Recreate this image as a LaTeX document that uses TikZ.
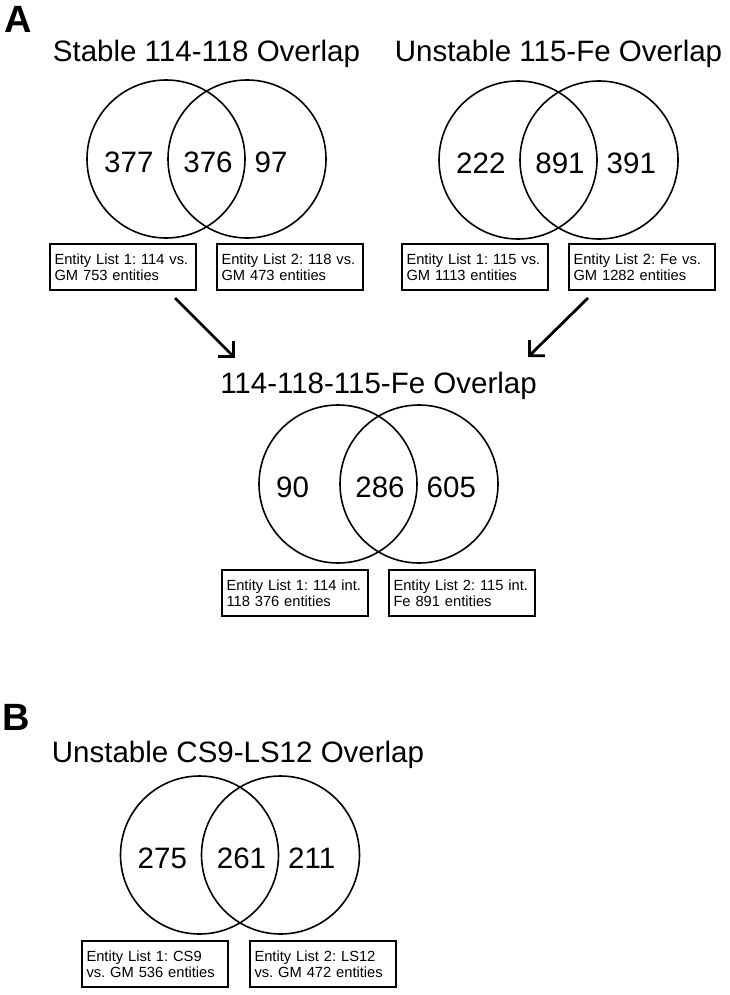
\documentclass[tikz,border=0pt]{standalone}
\usepackage{fontspec}
\setmainfont{Liberation Sans}
\usepackage{tikz}
\usetikzlibrary{calc,shapes,arrows.meta}
\newcommand{\tikzVennPair}[5]{
  \node[draw,circle,line width=1.6pt,minimum size=158pt,inner sep=0pt,xshift=-40.5pt] (#1l) at (#2) {};
  \node[draw,circle,line width=1.6pt,minimum size=158pt,inner sep=0pt,xshift=40.5pt] (#1r) at (#2) {};
  \node[vennnum,anchor=west,xshift=-102.5pt,yshift=-3pt] (#1a) at (#2) {#3};
  \node[vennnum,xshift=1.5pt,yshift=-3pt] (#1b) at (#2) {#4};
  \node[vennnum,anchor=west,xshift=48pt,yshift=-3pt] (#1c) at (#2) {#5};
}

\begin{document}
\begin{tikzpicture}[x=1pt,y=-1pt,
  vennnum/.style={inner sep=0pt,font=\fontsize{29.5}{32}\selectfont},
  venntitle/.style={inner sep=0pt,anchor=base,font=\fontsize{29.5}{32}\selectfont},
  entitybox/.style={draw,line width=1.4pt,text width=137pt,align=left,inner xsep=4.5pt,minimum height=46pt,font=\fontsize{14.7}{16.5}\selectfont\frenchspacing},
  panel/.style={inner sep=0pt,anchor=base west,font=\fontsize{38}{40}\selectfont\bfseries}]

  \useasboundingbox (0,0) rectangle (730,995);

  % panel A
  \node[panel] (pa) at (4,33) {A};

  \node[venntitle] (t1) at (206.5,62) {Stable 114-118 Overlap};
  \tikzVennPair{v1}{206.5,159}{377}{376}{97}
  \node[entitybox] (s1) at (123,267) {Entity List 1: 114 vs.\\GM 753 entities};
  \node[entitybox] (s2) at (290,267) {Entity List 2: 118 vs.\\GM 473 entities};

  \node[venntitle] (t2) at (558.5,62) {Unstable 115-Fe Overlap};
  \tikzVennPair{v2}{558.5,160}{222}{891}{391}
  \node[entitybox] (u1) at (475,267) {Entity List 1: 115 vs.\\GM 1113 entities};
  \node[entitybox] (u2) at (642,267) {Entity List 2: Fe vs.\\GM 1282 entities};

  \coordinate (aL1) at (175,298);
  \coordinate (aL2) at (235,358);
  \coordinate (aR1) at (588,298);
  \coordinate (aR2) at (528,357);
  \draw[line width=2.8pt,-{Straight Barb[length=11pt,width=22pt]}] (aL1) -- (aL2);
  \draw[line width=2.8pt,-{Straight Barb[length=11pt,width=22pt]}] (aR1) -- (aR2);

  \node[venntitle] (t3) at (378.5,393) {114-118-115-Fe Overlap};
  \tikzVennPair{v3}{378.5,484}{90}{286}{605}
  \node[entitybox] (c1) at (295,593) {Entity List 1: 114~int.\\118 376 entities};
  \node[entitybox] (c2) at (462,593) {Entity List 2: 115~int.\\Fe 891 entities};

  % panel B
  \node[panel] (pb) at (2,730) {B};

  \node[venntitle] (t4) at (238,762) {Unstable CS9-LS12 Overlap};
  \tikzVennPair{v4}{240,855}{275}{261}{211}
  \node[entitybox] (b1) at (155,964) {Entity List 1: CS9\\vs. GM 536 entities};
  \node[entitybox] (b2) at (323,964) {Entity List 2: LS12\\vs. GM 472 entities};

\end{tikzpicture}
\end{document}
